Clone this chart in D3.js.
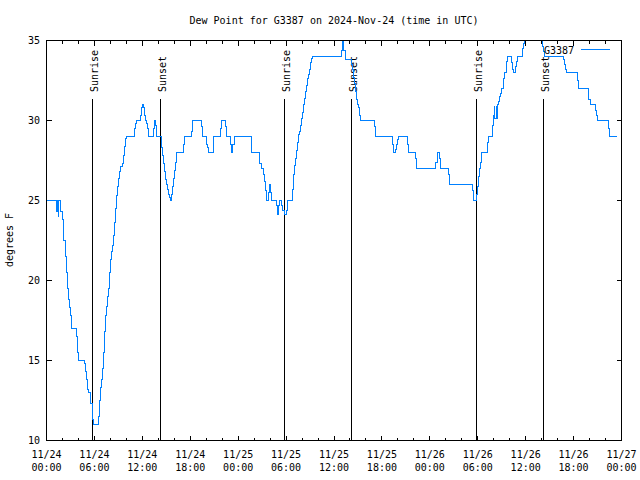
<!DOCTYPE html>
<html>
<head>
<meta charset="utf-8">
<script src="https://cdn.jsdelivr.net/npm/d3@7"></script>
<style>
body { margin: 0; background: #fff; }
svg { display: block; font-family: "DejaVu Sans Mono", monospace; font-size: 10px; }
</style>
</head>
<body>
<div id="chart"></div>
<script>
// hours since 2024-11-24 00:00 UTC, and the dew point reading that starts there
const hours = [
  0, 1.28, 1.32, 1.48, 1.52, 1.78, 1.98, 2.10, 2.40, 2.53, 2.65, 2.78, 2.91, 3.03, 3.11,
  3.78, 3.91, 3.98, 4.78, 4.91, 5.03, 5.16, 5.28, 5.45, 5.57, 5.70, 5.79, 5.91,
  6.49, 6.61, 6.74, 6.86, 6.99, 7.11, 7.24, 7.36, 7.49, 7.61, 7.79, 7.86, 7.99, 8.11,
  8.24, 8.36, 8.49, 8.62, 8.74, 8.87, 8.99, 9.12, 9.24, 9.49, 9.62, 9.74, 9.87, 9.99,
  10.99, 11.12, 11.24, 11.75, 11.87, 12.00, 12.12, 12.25, 12.37, 12.55, 12.67, 12.75,
  13.37, 13.50, 13.62, 13.75, 14.34, 14.43, 14.55, 14.68, 14.80, 14.93, 15.05, 15.18,
  15.30, 15.43, 15.50, 15.63, 15.75, 15.88, 16.00, 16.13, 16.25, 17.13, 17.26, 18.13,
  18.26, 19.38, 19.51, 20.06, 20.19, 20.26, 20.85, 20.97, 21.81, 21.94, 22.39, 22.51,
  23.07, 23.19, 23.35, 23.48, 25.61, 25.73, 26.61, 26.73, 26.86, 27.15, 27.27, 27.40,
  27.52, 27.77, 27.90, 28.02, 28.15, 28.78, 28.90, 29.03, 29.15, 29.45, 29.58, 29.74,
  30.08, 30.20, 30.78, 30.90, 31.03, 31.16, 31.28, 31.41, 31.53, 31.66, 31.78, 31.91,
  32.03, 32.16, 32.28, 32.41, 32.53, 32.66, 32.78, 32.91, 33.03, 33.16, 33.28, 36.92,
  37.04, 37.25, 37.38, 38.13, 38.29, 38.42, 38.54, 38.67, 38.79, 38.92, 39.04, 39.17,
  39.29, 41.10, 41.22, 43.30, 43.43, 43.68, 43.80, 43.93, 44.05, 45.23, 45.36, 46.23,
  46.36, 48.77, 48.90, 49.02, 49.19, 49.31, 50.28, 50.40, 53.28, 53.41, 53.53, 53.82,
  53.94, 54.07, 54.20, 54.32, 54.41, 55.20, 55.32, 55.82, 55.95, 56.07, 56.11, 56.29,
  56.33, 56.45, 56.58, 56.70, 56.83, 56.95, 57.25, 57.41, 57.54, 57.67, 58.17, 58.29,
  58.42, 58.70, 58.83, 58.96, 59.63, 59.76, 59.88, 60.13, 62.01, 62.14, 62.26, 62.38,
  64.72, 64.84, 64.97, 65.09, 66.47, 66.59, 67.81, 67.93, 68.06, 68.69, 68.81, 68.94,
  70.40, 70.53, 71.48
];
const dewF = [
  25, 24.3, 25, 24, 25, 24.3, 23.8, 22.5, 21.5, 20.5, 19.5, 18.8, 18.3, 17.8, 17,
  16.5, 15.5, 15, 14.8, 14.3, 13.8, 13.2, 13, 12.8, 12.3, 11.8, 11.3, 11,
  11.5, 12.5, 13.3, 13.8, 14.5, 15.5, 16.8, 17.8, 18.4, 19, 19.5, 20.5, 21.3, 21.8,
  22.2, 22.8, 23.6, 24.5, 25.3, 25.9, 26.4, 26.8, 27.1, 27.3, 27.8, 28.4, 28.9, 29,
  29.5, 29.8, 30, 30.3, 30.8, 31, 30.8, 30.3, 30, 29.8, 29.5, 29,
  29.5, 30, 29.7, 29, 28.7, 28.3, 27.8, 27.3, 26.8, 26.3, 26, 25.7,
  25.4, 25.2, 25, 25.4, 25.9, 26.4, 26.9, 27.4, 28, 28.5, 29, 29.3,
  30, 29.6, 29, 28.5, 28.3, 28, 28.5, 29, 29.5, 30, 29.6, 29,
  28.5, 28, 28.5, 29, 28.5, 28, 27.8, 27.3, 27, 26.6, 26.2, 25.6,
  25, 25.5, 26, 25.5, 25, 24.7, 24.1, 24.7, 25, 24.7, 24.4, 24.1,
  24.4, 25, 25.7, 26.6, 27.2, 27.6, 28.1, 28.6, 29.1, 29.3, 29.7, 30.1,
  30.5, 31, 31.4, 31.8, 32.2, 32.6, 32.9, 33.2, 33.6, 33.9, 34, 34.4,
  35, 34.4, 33.8, 33.5, 33.2, 32.7, 32.3, 31.8, 31.3, 31, 30.8, 30.3,
  30, 29.6, 29, 28.5, 28, 28.2, 28.5, 28.8, 29, 28.5, 28, 27.6,
  27, 27.4, 27.7, 28, 27.6, 27, 26.6, 26, 25.6, 25.3, 25, 25.4,
  25.9, 26.5, 27, 27.4, 28, 28.6, 29, 29.7, 30.3, 30.9, 30.1, 30.9,
  30.1, 31, 31.2, 31.5, 31.7, 32, 32.6, 33, 33.7, 34, 33.6, 33.2,
  33, 33.4, 33.7, 34, 34.5, 34.8, 35, 36, 35, 34.6, 34.3, 34,
  33.8, 33.5, 33.2, 33, 32.5, 32, 31.6, 31.3, 31, 30.6, 30.3, 30,
  29.5, 29, 29
];
const sunrise = [5.74, 29.78, 53.82];
const sunset = [14.25, 38.25, 62.21];
const yTicks = [10, 15, 20, 25, 30, 35];
const seriesName = "G3387";

const start = Date.UTC(2024, 10, 24);
const toDate = h => new Date(start + h * 3600e3);

const width = 640, height = 480;

const svg = d3.select("#chart").append("svg")
    .attr("width", width)
    .attr("height", height);

const x = d3.scaleUtc().domain([toDate(0), toDate(72)]).range([46.5, 621.5]);
const y = d3.scaleLinear().domain([10, 35]).range([440.5, 40.5]);

const major = x.ticks(d3.utcHour.every(6));
const minor = x.ticks(d3.utcHour.every(2)).filter(d => d.getUTCHours() % 6);

// ticks point inward on all four sides
function ticks(axis, tr) {
    svg.append("g")
        .attr("transform", tr)
        .call(axis.offset(0).tickFormat(""))
        .call(g => g.select(".domain").remove())
        .call(g => g.selectAll("text").remove())
        .selectAll("line")
            .attr("stroke", "#000")
            .attr("shape-rendering", "crispEdges");
}
ticks(d3.axisBottom(x).tickValues(major).tickSize(-5), `translate(0,${y(10)})`);
ticks(d3.axisBottom(x).tickValues(minor).tickSize(-3), `translate(0,${y(10)})`);
ticks(d3.axisTop(x).tickValues(major).tickSize(-5), `translate(0,${y(35)})`);
ticks(d3.axisTop(x).tickValues(minor).tickSize(-3), `translate(0,${y(35)})`);
ticks(d3.axisLeft(y).tickValues(yTicks).tickSize(-5), `translate(${x.range()[0]},0)`);
ticks(d3.axisRight(y).tickValues(yTicks).tickSize(-5), `translate(${x.range()[1]},0)`);

// x labels, date over time
const xl = svg.append("g").selectAll("text")
    .data(major)
    .join("text")
        .attr("text-anchor", "middle")
        .attr("y", 458);
xl.append("tspan").attr("x", d => x(d)).text(d3.utcFormat("%m/%d"));
xl.append("tspan").attr("x", d => x(d)).attr("dy", 13).text(d3.utcFormat("%H:%M"));

svg.append("g").selectAll("text")
    .data(yTicks)
    .join("text")
        .attr("text-anchor", "end")
        .attr("x", 40)
        .attr("y", d => y(d) + 3.5)
        .text(d => d);

// sunrise / sunset markers
const sun = sunrise.map(h => ({h, label: "Sunrise"}))
    .concat(sunset.map(h => ({h, label: "Sunset"})));

svg.append("g").selectAll("line")
    .data(sun)
    .join("line")
        .attr("x1", d => x(toDate(d.h)))
        .attr("x2", d => x(toDate(d.h)))
        .attr("y1", y(31.35))
        .attr("y2", y(10))
        .attr("stroke", "#000")
        .attr("shape-rendering", "crispEdges");

svg.append("g").selectAll("text")
    .data(sun)
    .join("text")
        .attr("transform", d => `translate(${x(toDate(d.h)) + 5.5},92) rotate(-90)`)
        .text(d => d.label);

// the series
svg.append("clipPath").attr("id", "plot")
    .append("rect")
        .attr("x", x.range()[0]).attr("y", y(35))
        .attr("width", x.range()[1] - x.range()[0])
        .attr("height", y(10) - y(35));

const line = d3.line()
    .x(d => x(toDate(d[0])))
    .y(d => y(d[1]))
    .curve(d3.curveStepAfter);

svg.append("path")
    .datum(hours.map((h, i) => [h, dewF[i]]))
    .attr("clip-path", "url(#plot)")
    .attr("fill", "none")
    .attr("stroke", "#0080ff")
    .attr("stroke-width", 1)
    .attr("shape-rendering", "crispEdges")
    .attr("d", line);

// frame
svg.append("rect")
    .attr("x", x.range()[0]).attr("y", y(35))
    .attr("width", x.range()[1] - x.range()[0])
    .attr("height", y(10) - y(35))
    .attr("fill", "none")
    .attr("stroke", "#000")
    .attr("shape-rendering", "crispEdges");

// key
svg.append("text")
    .attr("x", 574).attr("y", 53.5)
    .attr("text-anchor", "end")
    .text(seriesName);
svg.append("line")
    .attr("x1", 581).attr("x2", 610)
    .attr("y1", 49.5).attr("y2", 49.5)
    .attr("stroke", "#0080ff")
    .attr("shape-rendering", "crispEdges");

svg.append("text")
    .attr("transform", "translate(13,240) rotate(-90)")
    .attr("text-anchor", "middle")
    .text("degrees F");

svg.append("text")
    .attr("x", 334).attr("y", 24)
    .attr("text-anchor", "middle")
    .text("Dew Point for G3387 on 2024-Nov-24 (time in UTC)");
</script>
</body>
</html>
